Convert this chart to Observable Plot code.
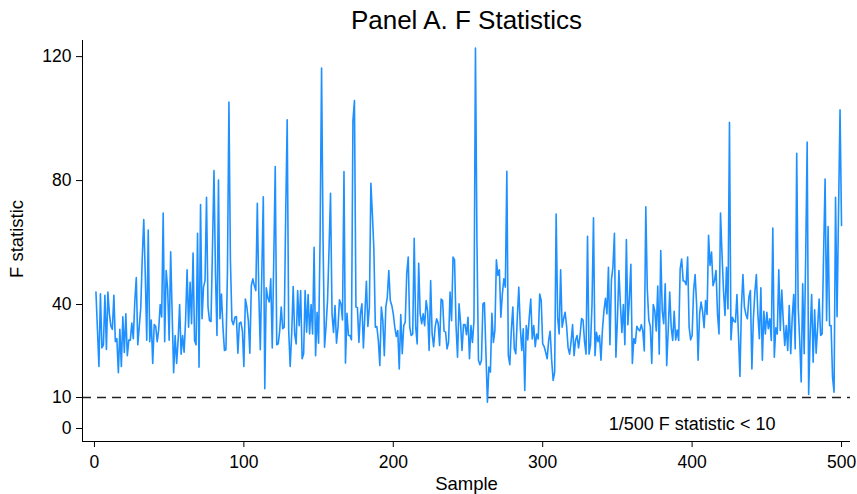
<!DOCTYPE html>
<html><head><meta charset="utf-8">
<script src="https://cdn.jsdelivr.net/npm/d3@7"></script>
<script src="https://cdn.jsdelivr.net/npm/@observablehq/plot@0.6"></script>
<style>
html,body{margin:0;padding:0;background:#fff;}
</style></head><body><div id="chart"></div>
<script>
// F statistic per sample, samples 1..500
const fStat = [
  44, 32, 20, 43.5, 26, 27, 43, 25.5, 44, 37, 33, 32, 43, 28, 29, 18, 32, 20, 36, 24.5, 37, 23.5, 28.5, 28.5, 34, 29, 41, 48.7, 27, 33, 39, 55, 67.4, 50, 28.5, 64, 28, 35, 21, 33.5, 33, 28, 32, 40, 36, 69.5, 28, 51, 45, 28.5, 57, 37, 18, 30, 21, 28.5, 40, 24, 30,
  24.6, 35, 51.2, 32.7, 47.2, 33.8, 56.6, 28.4, 27, 63, 19.8, 72.3, 35.4, 45.6, 47.7, 74.6, 39.2, 34.8, 34.5, 58.5, 83.2, 50, 30, 80.2, 35.4, 43.4, 32.7, 25.2, 25.4, 50, 105.3, 54.2, 34.8, 33.5, 35.9, 36.1, 24.3, 34, 34.3, 31.6, 20, 41.8, 39.2, 34.8, 24.3, 46.1, 48.3, 46.1, 44.5, 72.7, 43.4, 25.4, 50, 74.8, 12.8, 45.4, 42.2, 40.8, 48.3, 26, 54.2, 84.5, 27, 27.3,
  31.6, 39.2, 32.2, 32.7, 69.2, 99.6, 31.6, 20, 30.5, 45.8, 30.5, 27.3, 44.5, 33.2, 44.5, 22.5, 24.1, 44.5, 31.1, 43.2, 30.5, 40, 30.5, 58.5, 23.5, 37.5, 27.5, 60.7, 116.3, 60.7, 26.2, 33, 41.3, 58, 75.9, 37, 31, 39.7, 27.5, 32.7, 41.5, 40.2, 35, 82.9, 21.1, 37.2, 30, 30, 28.6, 99.4, 105.8, 39.2, 39, 27.8, 37, 40.2, 26, 37, 47.5, 32.9, 39.2, 79.1, 69.2, 58,
  32.7, 32.9, 28.4, 20.3, 39.2, 34.8, 23.5, 39.2, 42.4, 51, 41.3, 39.7, 37, 32.7, 29.7, 31.6, 19.2, 36.8, 24.1, 33.2, 34.3, 50, 55.3, 32.7, 30, 30.5, 61.4, 32.7, 27.3, 53.3, 37, 33.8, 37, 33.2, 41.3, 37.8, 25.2, 47.7, 30.5, 26.4, 32.7, 35.4, 34, 26.8, 41.8, 41.3, 31.4, 31.1, 25.7, 27.8, 44, 34.8, 55.3, 54.4, 33.2, 23, 40.2, 34.3, 25.2, 33.5, 33.5, 30.3, 35.9, 22.5,
  33.2, 27.8, 34.8, 122.8, 60, 22, 20.6, 22, 40.2, 40.6, 24.6, 8.5, 19.8, 18.2, 37.2, 27.8, 31.6, 54.4, 49.4, 51.2, 35.9, 43.4, 48.3, 45.6, 83, 23.5, 20.6, 31.6, 39.2, 25.7, 24.1, 35.9, 45.6, 32.7, 25.2, 32.2, 12.3, 33.2, 28.6, 35.9, 41.8, 28.9, 33.2, 26.4, 30.5, 28.9, 43.4, 41.3, 27.3, 26.4, 24.6, 22.5, 28.5, 31.4, 22, 15.5, 18.2, 69.2, 35.9, 30.5, 51.2, 32.7, 35.4,
  37.5, 33, 26, 24, 28, 33.5, 23.5, 28.5, 30, 26, 30, 35.5, 35, 28, 24, 62, 24, 27, 40, 68, 23.5, 31, 28, 30, 22, 32, 38, 42, 37, 52, 27, 48, 52, 63, 23, 35, 51, 40, 31, 40, 27, 61, 33.5, 42, 53, 21, 29, 27.5, 33, 32, 31.5, 33.5, 31.5, 25, 71.5, 45, 35, 33, 21, 40, 38, 31.5, 46, 24,
  57.4, 38, 33.8, 46.7, 20.3, 31.6, 44, 32.7, 28.4, 37.8, 28.6, 31.8, 28.4, 51.5, 54.7, 47.7, 47.5, 46.4, 55.3, 32.7, 28.6, 30, 44.5, 49.7, 40.2, 22, 37, 40.8, 37.8, 32.5, 41.3, 36.8, 62.3, 52.6, 56.9, 46.1, 47.7, 51, 37, 30.5, 69.5, 56.4, 44.5, 36.5, 52, 38.6, 98.8, 28.6, 35.9, 34.6, 34.3, 43.2, 30.5, 16.8, 39.2, 49.7, 39.2, 36.8, 35.4, 42.4, 44.5, 19.2, 35.4, 44,
  49.7, 37, 29, 45.4, 22, 37.8, 30.5, 37.5, 32.2, 35.4, 28.4, 64.7, 23, 32.5, 30.5, 51.2, 31.6, 44.7, 34.8, 26.8, 33.2, 25.2, 39.7, 24.1, 35.9, 43.2, 25.7, 88.8, 39.2, 28.4, 15, 46.7, 24.1, 55, 92.4, 11, 30.5, 43.2, 21.4, 38.3, 24.3, 32.5, 41.8, 30, 30.5, 56.4, 80.5, 34.8, 65.2, 33.2, 33.2, 16.4, 11.7, 74.6, 36.1, 70, 102.8, 65.5
];
const xTicks = [0, 100, 200, 300, 400, 500];
const yTicks = [0, 10, 40, 80, 120];
const threshold = [10];
const titleText = "Panel A. F Statistics";
const xLabel = "Sample";
const yLabel = "F statistic";
const noteText = ["1/500 F statistic < 10"];
const noteX = [400];
const noteY = [1.3];
const xDomain = [-8, 506];
const yDomain = [-4.2, 125.2];

const data = fStat.map((v, i) => ({sample: i + 1, f: v}));
const note = noteText.map((t, i) => ({t, x: noteX[i], y: noteY[i]}));

const chart = Plot.plot({
  width: 857, height: 494,
  marginLeft: 82, marginRight: 7, marginTop: 40, marginBottom: 53,
  style: {fontFamily: "'Liberation Sans', Arial, sans-serif", fontSize: "17.5px", color: "#000", background: "#fff"},
  x: {domain: xDomain},
  y: {domain: yDomain},
  marks: [
    Plot.ruleY(threshold, {stroke: "#222", strokeWidth: 1.5, strokeDasharray: "9,6"}),
    Plot.lineY(data, {x: "sample", y: "f", stroke: "#1e90ff", strokeWidth: 1.6}),
    Plot.ruleX([xDomain[0]], {stroke: "#000", strokeWidth: 1}),
    Plot.ruleY([yDomain[0]], {stroke: "#000", strokeWidth: 1}),
    Plot.axisY({ticks: yTicks, tickSize: 6, tickPadding: 5, label: null}),
    Plot.axisX({ticks: xTicks, tickSize: 6, tickPadding: 8, label: null}),
    Plot.text([titleText], {text: d => d, frameAnchor: "top", lineAnchor: "middle", dy: -20, fontSize: 26}),
    Plot.text([yLabel], {text: d => d, frameAnchor: "left", textAnchor: "middle", lineAnchor: "middle", dx: -65, dy: -2, rotate: -90, fontSize: 18.5}),
    Plot.text([xLabel], {text: d => d, frameAnchor: "bottom", lineAnchor: "middle", dy: 43, fontSize: 18.5}),
    Plot.text(note, {x: "x", y: "y", text: "t", fontSize: 18})
  ]
});
document.getElementById("chart").appendChild(chart);
</script>
</body></html>
